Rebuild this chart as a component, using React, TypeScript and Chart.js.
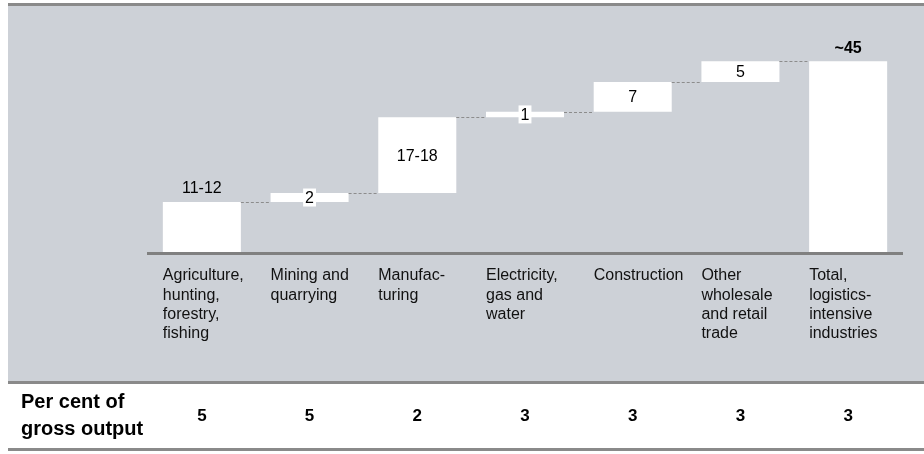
import React, { useEffect, useRef } from "react";
import { Chart, registerables } from "chart.js";

Chart.register(...registerables);

const categories: string[][] = [
  ["Agriculture,", "hunting,", "forestry,", "fishing"],
  ["Mining and", "quarrying"],
  ["Manufac-", "turing"],
  ["Electricity,", "gas and", "water"],
  ["Construction"],
  ["Other", "wholesale", "and retail", "trade"],
  ["Total,", "logistics-", "intensive", "industries"],
];
const increments: number[] = [11.8, 2.1, 17.9, 1.3, 7.0, 4.9];
const totalValue = 45;
const valueLabels: string[] = ["11-12", "2", "17-18", "1", "7", "5", "~45"];
const shareLabels: string[] = ["5", "5", "2", "3", "3", "3", "3"];
const rowTitle: string[] = ["Per cent of", "gross output"];

const FONT = '"Liberation Sans", Arial, Helvetica, sans-serif';

function buildRanges(): [number, number][] {
  const out: [number, number][] = [];
  let acc = 0;
  increments.forEach((v) => {
    out.push([acc, acc + v]);
    acc += v;
  });
  out.push([0, totalValue]);
  return out;
}

export default function App() {
  const ref = useRef<HTMLCanvasElement | null>(null);

  useEffect(() => {
    document.body.style.margin = "0";
    const canvas = ref.current;
    if (!canvas) return;
    const ranges = buildRanges();

    const decor = {
      id: "decor",
      beforeDraw(chart: any) {
        const ctx = chart.ctx;
        ctx.save();
        ctx.fillStyle = "#ffffff";
        ctx.fillRect(0, 0, 924, 454);
        ctx.fillStyle = "rgb(205,209,215)";
        ctx.fillRect(8, 3, 916, 380);
        ctx.fillStyle = "#8a8a8a";
        ctx.fillRect(8, 3, 916, 3);
        ctx.fillRect(8, 381, 916, 3);
        ctx.fillRect(8, 448, 916, 3);
        ctx.restore();
      },
      afterDatasetsDraw(chart: any) {
        const ctx = chart.ctx;
        const xs = chart.scales.x;
        const ys = chart.scales.y;
        const meta = chart.getDatasetMeta(0);
        ctx.save();
        // baseline
        const y0 = ys.getPixelForValue(0);
        ctx.fillStyle = "#808080";
        ctx.fillRect(xs.left - 1, y0, xs.right - xs.left + 2, 3);
        // connectors
        ctx.strokeStyle = "#8c8c8c";
        ctx.lineWidth = 1;
        ctx.setLineDash([3, 2]);
        for (let i = 0; i < ranges.length - 1; i++) {
          const a = meta.data[i];
          const b = meta.data[i + 1];
          const level = ranges[i][1];
          const y = Math.round(ys.getPixelForValue(level)) + 0.5;
          ctx.beginPath();
          ctx.moveTo(a.x + a.width / 2, y);
          ctx.lineTo(b.x - b.width / 2, y);
          ctx.stroke();
        }
        ctx.setLineDash([]);
        // value labels
        ctx.textAlign = "center";
        ctx.textBaseline = "middle";
        ranges.forEach((r, i) => {
          const bar = meta.data[i];
          const top = ys.getPixelForValue(r[1]);
          const bottom = ys.getPixelForValue(r[0]);
          const isEnd = i === 0 || i === ranges.length - 1;
          ctx.font = (i === ranges.length - 1 ? "bold " : "") + "16px " + FONT;
          const txt = valueLabels[i];
          if (isEnd) {
            ctx.fillStyle = "#000";
            ctx.fillText(txt, bar.x, top - 13);
          } else {
            const cy = (top + bottom) / 2;
            const w = ctx.measureText(txt).width;
            if (bottom - top < 20) {
              ctx.fillStyle = "#ffffff";
              ctx.fillRect(bar.x - w / 2 - 2, cy - 9, w + 4, 18);
            }
            ctx.fillStyle = "#000";
            ctx.fillText(txt, bar.x, cy + 1);
          }
        });
        // category labels
        ctx.textAlign = "left";
        ctx.textBaseline = "middle";
        ctx.font = "16px " + FONT;
        ctx.fillStyle = "#111";
        categories.forEach((lines, i) => {
          const bar = meta.data[i];
          const lx = bar.x - bar.width / 2;
          lines.forEach((ln, k) => {
            ctx.fillText(ln, lx, 276 + k * 19.2);
          });
        });
        // bottom row
        ctx.fillStyle = "#000";
        ctx.font = "bold 20px " + FONT;
        ctx.fillText(rowTitle[0], 21, 402);
        ctx.fillText(rowTitle[1], 21, 429);
        ctx.textAlign = "center";
        ctx.font = "bold 17px " + FONT;
        shareLabels.forEach((s, i) => {
          const bar = meta.data[i];
          ctx.fillText(s, bar.x, 416);
        });
        ctx.restore();
      },
    };

    const chart = new Chart(canvas, {
      type: "bar",
      data: {
        labels: categories.map((c) => c.join(" ")),
        datasets: [
          {
            data: ranges as any,
            backgroundColor: "#ffffff",
            borderWidth: 0,
            categoryPercentage: 0.7244,
            barPercentage: 1,
          },
        ],
      },
      options: {
        animation: false,
        responsive: false,
        maintainAspectRatio: false,
        layout: { padding: { left: 148, right: 22, top: 40, bottom: 202 } },
        plugins: { legend: { display: false }, tooltip: { enabled: false } },
        scales: {
          x: { display: false, grid: { display: false } },
          y: { display: false, min: 0, max: 50, grid: { display: false } },
        },
      },
      plugins: [decor],
    });
    return () => chart.destroy();
  }, []);

  return (
    <div style={{ width: 924, height: 454 }}>
      <canvas ref={ref} width={924} height={454} style={{ display: "block" }} />
    </div>
  );
}
